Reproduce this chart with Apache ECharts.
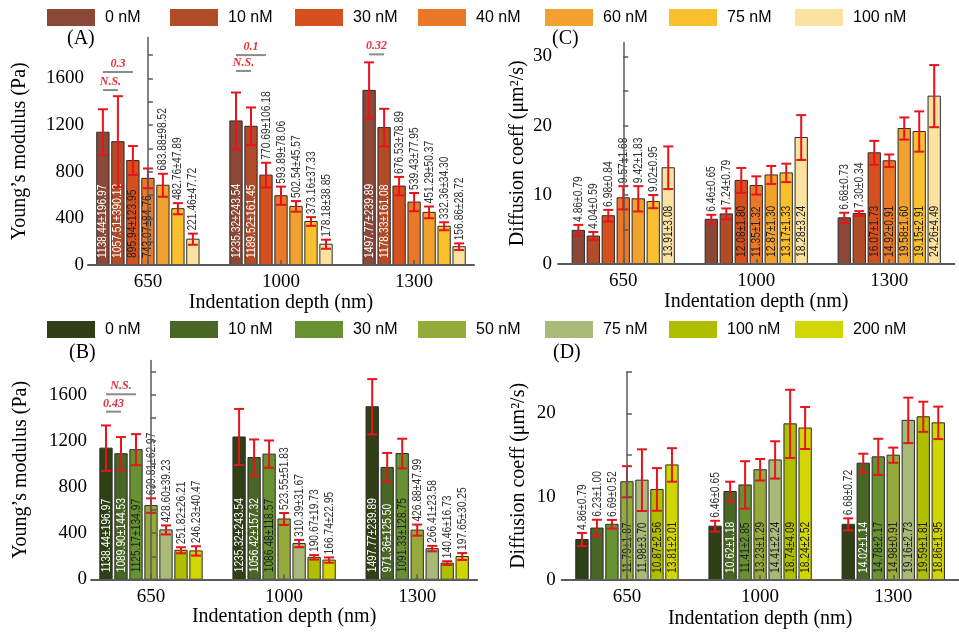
<!DOCTYPE html>
<html><head><meta charset="utf-8">
<script src="https://cdn.jsdelivr.net/npm/echarts@6/dist/echarts.min.js"></script>
<style>html,body{margin:0;padding:0;background:#fff}#c{width:959px;height:634px}</style>
</head><body><div id="c"></div>
<script>
// ---------- data ----------
const depths = ['650', '1000', '1300'];
const brownNames = ['0 nM', '10 nM', '30 nM', '40 nM', '60 nM', '75 nM', '100 nM'];
const greenNames = ['0 nM', '10 nM', '30 nM', '50 nM', '75 nM', '100 nM', '200 nM'];

// Panel A: Young's modulus (Pa), brown series, per depth 650/1000/1300
const A_mean = [
  [1138.44, 1235.32, 1497.77],
  [1057.51, 1189.52, 1178.33],
  [895.94, 770.69, 676.53],
  [743.07, 593.89, 539.43],
  [683.88, 502.54, 451.29],
  [482.76, 373.16, 332.36],
  [221.46, 178.18, 156.86]
];
const A_err = [
  [196.97, 243.54, 239.89],
  [390.12, 161.45, 161.08],
  [123.95, 106.18, 78.89],
  [84.76, 78.06, 77.95],
  [98.52, 45.57, 50.37],
  [47.89, 37.33, 34.30],
  [47.72, 38.85, 28.72]
];
// Panel C: diffusion coeff (um^2/s), brown series
const C_mean = [
  [4.86, 6.46, 6.68],
  [4.04, 7.24, 7.30],
  [6.98, 12.08, 16.07],
  [9.57, 11.35, 14.92],
  [9.42, 12.87, 19.58],
  [9.02, 13.17, 19.15],
  [13.91, 18.28, 24.26]
];
const C_err = [
  [0.79, 0.65, 0.73],
  [0.59, 0.79, 0.34],
  [0.84, 1.80, 1.73],
  [1.68, 1.32, 0.91],
  [1.83, 1.30, 1.60],
  [0.95, 1.33, 2.91],
  [3.08, 3.24, 4.49]
];
// Panel B: Young's modulus (Pa), green series
const B_mean = [
  [1138.44, 1235.32, 1497.77],
  [1089.90, 1056.42, 971.36],
  [1125.17, 1086.48, 1091.33],
  [639.81, 523.55, 426.88],
  [428.60, 310.39, 266.41],
  [251.82, 190.67, 140.46],
  [246.23, 166.74, 197.65]
];
const B_err = [
  [196.97, 243.54, 239.89],
  [144.53, 157.32, 125.50],
  [134.97, 118.57, 128.75],
  [62.97, 51.83, 47.99],
  [39.23, 31.67, 23.58],
  [26.21, 19.73, 16.73],
  [40.47, 22.95, 30.25]
];
// Panel D: diffusion coeff, green series
const D_mean = [
  [4.86, 6.46, 6.68],
  [6.23, 10.62, 14.02],
  [6.69, 11.41, 14.78],
  [11.79, 13.23, 14.98],
  [11.98, 14.41, 19.16],
  [10.87, 18.74, 19.59],
  [13.81, 18.24, 18.86]
];
const D_err = [
  [0.79, 0.65, 0.72],
  [1.00, 1.18, 1.14],
  [0.52, 2.85, 2.17],
  [1.87, 1.29, 0.91],
  [3.70, 2.24, 2.73],
  [2.56, 4.09, 1.81],
  [2.01, 2.52, 1.95]
];
// significance annotations: [depth index, from bar, to bar, y value, text]
const A_sig = [
  [0, 0, 2, 1655, '0.3'],
  [0, 0, 1, 1500, 'N.S.'],
  [1, 0, 2, 1800, '0.1'],
  [1, 0, 1, 1664, 'N.S.'],
  [2, 0, 1, 1806, '0.32']
];
const B_sig = [
  [0, 0, 2, 1606, 'N.S.'],
  [0, 0, 1, 1455, '0.43']
];
const modTicks = [0, 200, 400, 600, 800, 1000, 1200, 1400, 1600, 1800];
const modLabels = [0, 400, 800, 1200, 1600];
const difTicksC = [0, 5, 10, 15, 20, 25, 30];
const difLabelsC = [0, 10, 20, 30];
const difTicksD = [0, 5, 10, 15, 20, 25];
const difLabelsD = [0, 10, 20];

// ---------- styles ----------
const brownColors = ['#8C4837', '#B24C28', '#D6501E', '#E97828', '#F1A12D', '#FAC02D', '#FBE29E'];
const greenColors = ['#2F4016', '#486624', '#689232', '#96AA3C', '#A8B978', '#B0BE00', '#D2D600'];
const insideText = ['#ffffff', '#ffffff', '#1e1e1e', '#1e1e1e', '#1e1e1e', '#1e1e1e', '#1e1e1e'];
const RED = '#E8141C';
const SERIF = '"Liberation Serif", "Times New Roman", serif';
const LABEL_SIZE = 13;
const LABEL_SQUEEZE = 0.79;
const LABEL_FAMILY = '"Liberation Sans", Arial, sans-serif';
// estimated label length in px (Liberation Sans metrics, squeezed) used for the inside/above rule
function estWidth(t) {
  let w = 0;
  for (const ch of t) w += (ch === '.') ? 0.278 : (ch === '±' ? 0.584 : 0.556);
  return w * LABEL_SIZE * LABEL_SQUEEZE;
}

function barSeries(names, means, errs, colors, axisIdx) {
  return names.map((nm, k) => ({
    type: 'custom', name: nm, xAxisIndex: axisIdx, yAxisIndex: axisIdx,
    itemStyle: { color: colors[k] },
    encode: { x: 0, y: 1 }, clip: false, z: 3,
    data: means[k].map((v, i) => [i, v, errs[k][i]]),
    renderItem: (params, api) => {
      const ci = api.value(0), v = api.value(1), e = api.value(2);
      const unit = api.size([1, 0])[0];
      const pitch = unit * 0.1127, bw = pitch * 0.82;
      const c0 = api.coord([ci, 0]), c1 = api.coord([ci, v]);
      const cx = c0[0] + (k - 3) * pitch;
      const yTop = api.coord([ci, v + e])[1], yBot = api.coord([ci, v - e])[1];
      const txt = v.toFixed(2) + '±' + e.toFixed(2);
      const barH = c0[1] - c1[1];
      const inside = estWidth(txt) + 22.5 < barH;
      return {
        type: 'group', children: [
          { type: 'rect', shape: { x: cx - bw / 2, y: c1[1], width: bw, height: barH },
            style: { fill: colors[k], stroke: '#2a2a2a', lineWidth: 1 } },
          { type: 'text', x: cx, y: inside ? c0[1] - 7 : yTop - 3, rotation: Math.PI / 2, scaleX: LABEL_SQUEEZE, scaleY: 1,
            style: { text: txt, fill: inside ? insideText[k] : '#333', fontSize: LABEL_SIZE, fontFamily: LABEL_FAMILY, align: 'left', verticalAlign: 'middle' } },
          { type: 'line', shape: { x1: cx, y1: yBot, x2: cx, y2: yTop }, style: { stroke: RED, lineWidth: 2 } },
          { type: 'line', shape: { x1: cx - 5, y1: yTop, x2: cx + 5, y2: yTop }, style: { stroke: RED, lineWidth: 2 } },
          { type: 'line', shape: { x1: cx - 5, y1: yBot, x2: cx + 5, y2: yBot }, style: { stroke: RED, lineWidth: 2 } }
        ]
      };
    }
  }));
}

function sigSeries(sig, axisIdx) {
  return {
    type: 'custom', name: 'sig' + axisIdx, xAxisIndex: axisIdx, yAxisIndex: axisIdx,
    encode: { x: 0, y: 3 }, clip: false, z: 4, silent: true,
    data: sig,
    renderItem: (params, api) => {
      const ci = api.value(0), f = api.value(1), t = api.value(2), yv = api.value(3);
      const unit = api.size([1, 0])[0];
      const pitch = unit * 0.1127;
      const c = api.coord([ci, yv]);
      const x1 = c[0] + (f - 3) * pitch, x2 = c[0] + (t - 3) * pitch;
      return {
        type: 'group', children: [
          { type: 'line', shape: { x1: x1, y1: c[1], x2: x2, y2: c[1] }, style: { stroke: '#8a8a8a', lineWidth: 2 } },
          { type: 'text', x: (x1 + x2) / 2, y: c[1] - 2,
            style: { text: sig[params.dataIndex][4], fill: '#E8303A', fontStyle: 'italic', fontWeight: 'bold', fontSize: 12, fontFamily: SERIF, align: 'center', verticalAlign: 'bottom' } }
        ]
      };
    }
  };
}

function xAxis(gi, min, max, nameGap) {
  return {
    type: 'value', gridIndex: gi, min: min, max: max, z: 10,
    axisLine: { show: true, lineStyle: { color: '#5a5a5a', width: 2 } },
    axisTick: { show: true, inside: true, length: 5, customValues: [0, 1, 2], lineStyle: { color: '#5a5a5a', width: 1.5 } },
    axisLabel: { customValues: [0, 1, 2], formatter: v => depths[Math.round(v)], margin: 8, color: '#000', fontFamily: SERIF, fontSize: 19 },
    splitLine: { show: false },
    name: 'Indentation depth (nm)', nameLocation: 'middle', nameGap: nameGap,
    nameTextStyle: { fontFamily: SERIF, fontSize: 20, color: '#000' }
  };
}
function yAxis(gi, max, ticks, labels, name, nameGap, margin) {
  return {
    type: 'value', gridIndex: gi, min: 0, max: max, z: 10,
    axisLine: { show: true, lineStyle: { color: '#5a5a5a', width: 1.5 } },
    axisTick: { show: true, inside: true, length: 5, customValues: ticks, lineStyle: { color: '#5a5a5a', width: 1.5 } },
    axisLabel: { customValues: labels, formatter: v => String(v), margin: margin, color: '#000', fontFamily: SERIF, fontSize: 19 },
    splitLine: { show: false },
    name: name, nameLocation: 'middle', nameGap: nameGap,
    nameTextStyle: { fontFamily: SERIF, fontSize: 20, color: '#000' }
  };
}

const legendLefts = [42, 165, 290, 413, 540, 664, 790];
function legends(names, colors, top) {
  return names.map((nm, k) => ({
    left: legendLefts[k], top: top, itemWidth: 48, itemHeight: 17, icon: 'rect', selectedMode: false,
    data: [{ name: nm, itemStyle: { color: colors[k] } }],
    textStyle: { fontFamily: '"Liberation Sans", Arial, sans-serif', fontSize: 16, color: '#000', padding: [0, 0, 0, 5] }
  }));
}

const chart = echarts.init(document.getElementById('c'), null, { renderer: 'canvas' });
chart.setOption({
  animation: false,
  backgroundColor: '#fff',
  grid: [
    { left: 88, top: 37.6, width: 386, height: 227.4 },
    { left: 558.1, top: 42.6, width: 396.3, height: 221.4 },
    { left: 91.1, top: 360.4, width: 386, height: 218.9 },
    { left: 561.7, top: 371.7, width: 396.8, height: 208.3 }
  ],
  xAxis: [
    xAxis(0, -0.45, 2.45, 23),
    xAxis(1, -0.49, 2.49, 25),
    xAxis(2, -0.45, 2.45, 27),
    xAxis(3, -0.49, 2.49, 29)
  ],
  yAxis: [
    yAxis(0, 1950, modTicks, modLabels, 'Young’s modulus (Pa)', 58, 4),
    yAxis(1, 32, difTicksC, difLabelsC, 'Diffusion coeff (μm²/s)', 30, 6),
    yAxis(2, 1900, modTicks, modLabels, 'Young’s modulus (Pa)', 60, 4),
    yAxis(3, 25, difTicksD, difLabelsD, 'Diffusion coeff (μm²/s)', 33, 6)
  ],
  legend: legends(brownNames, brownColors, 4).concat(legends(greenNames, greenColors, 316)),
  graphic: [
    { type: 'text', left: 67, top: 29, style: { text: '(A)', font: '20px ' + SERIF, fill: '#000' } },
    { type: 'text', left: 552, top: 29, style: { text: '(C)', font: '20px ' + SERIF, fill: '#000' } },
    { type: 'text', left: 69, top: 343, style: { text: '(B)', font: '20px ' + SERIF, fill: '#000' } },
    { type: 'text', left: 553, top: 343, style: { text: '(D)', font: '20px ' + SERIF, fill: '#000' } }
  ],
  series: [].concat(
    barSeries(brownNames, A_mean, A_err, brownColors, 0),
    barSeries(brownNames, C_mean, C_err, brownColors, 1),
    barSeries(greenNames, B_mean, B_err, greenColors, 2),
    barSeries(greenNames, D_mean, D_err, greenColors, 3),
    [sigSeries(A_sig, 0), sigSeries(B_sig, 2)]
  )
});
</script>
</body></html>
